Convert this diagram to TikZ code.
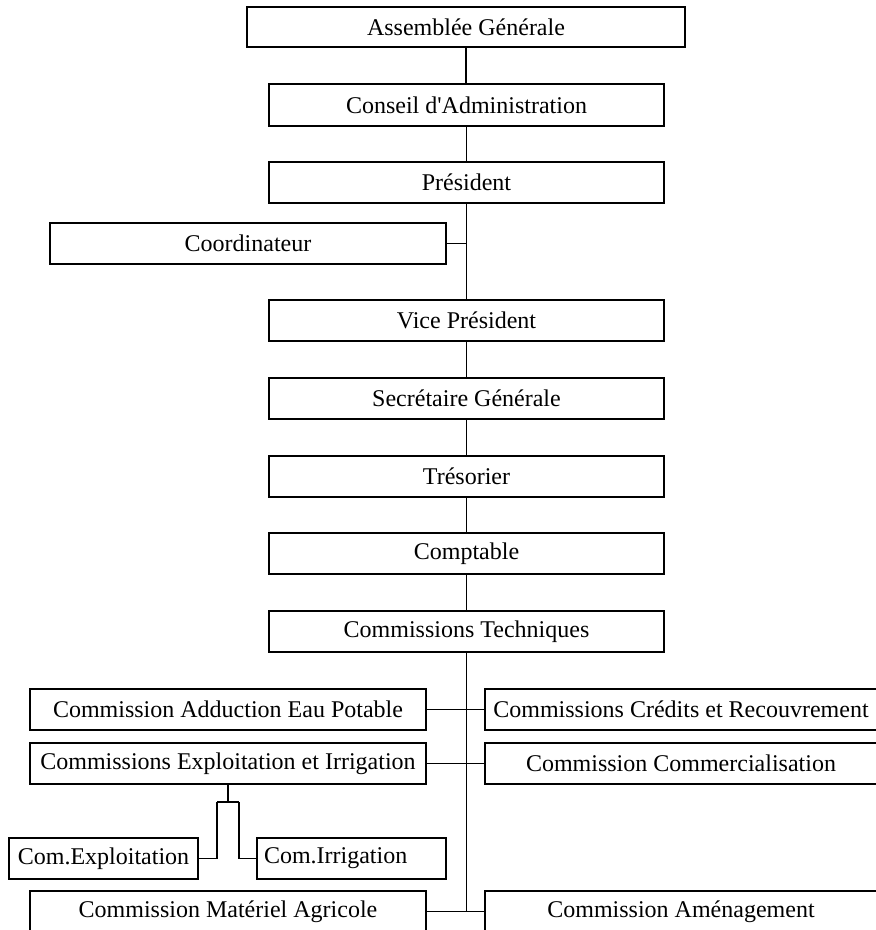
\documentclass[tikz,border=0pt]{standalone}
\usepackage{fontspec}
\setmainfont{Liberation Serif}
\begin{document}
\begin{tikzpicture}[x=1pt,y=-1pt,
  box/.style={draw=black,line width=1.5pt,rectangle,inner sep=0pt,font=\fontsize{24}{28}\selectfont,text=black},
  main/.style={box,minimum width=395pt,minimum height=41pt},
  side/.style={box,minimum width=396pt,minimum height=41pt},
  rside/.style={box,minimum width=392pt,minimum height=41pt},
  small/.style={box,minimum width=189pt,minimum height=41pt},
  link/.style={draw=black,line width=1.5pt}]
\useasboundingbox (0,0) rectangle (876,930);
\clip (0,0) rectangle (876,930);
\fill[white] (0,0) rectangle (876,930);
\node[box,minimum width=438pt,minimum height=40pt] (ag) at (466,27) {Assemblée Générale};
\node[main,minimum height=42pt] (ca) at (466.5,105) {Conseil d\textquotesingle Administration};
\node[main] (pr) at (466.5,182.5) {Président};
\node[side] (co) at (248,243.5) {Coordinateur};
\node[main] (vp) at (466.5,320.5) {Vice Président};
\node[main] (sg) at (466.5,398.5) {Secrétaire Générale};
\node[main] (tr) at (466.5,476.5) {Trésorier};
\node[main] (cp) at (466.5,553.5) {Comptable};
\node[main] (ct) at (466.5,631.5) {Commissions Techniques};
\node[side] (aep) at (228,709.5) {Commission Adduction Eau Potable};
\node[side] (exi) at (228,763.5) {Commissions Exploitation et Irrigation};
\node[side] (mat) at (228,911.5) {Commission Matériel Agricole};
\node[rside] (crd) at (681,709.5) {Commissions Crédits et Recouvrement};
\node[rside] (com) at (681,763.5) {Commission Commercialisation};
\node[rside] (amg) at (681,911.5) {Commission Aménagement};
\node[small] (cex) at (103.5,858.5) {Com.Exploitation};
\node[small,text width=175pt,align=left,inner xsep=7pt] (cir) at (351.5,858.5) {Com.Irrigation};
% trunk
\draw[link] (ag.south) -- (ag.south |- ca.north);
\draw[link] (ca.south) -- (ca.south |- pr.north);
\draw[link] (pr.south) -- (pr.south |- vp.north);
\draw[link] (co.east) -- (co.east -| pr.south);
\draw[link] (vp.south) -- (vp.south |- sg.north);
\draw[link] (sg.south) -- (sg.south |- tr.north);
\draw[link] (tr.south) -- (tr.south |- cp.north);
\draw[link] (cp.south) -- (cp.south |- ct.north);
\coordinate (tend) at (ct.south |- mat.east);
\draw[link] (ct.south) -- (tend);
\draw[link] (aep.east) -- (crd.west);
\draw[link] (exi.east) -- (com.west);
\draw[link] (mat.east) -- (amg.west);
% sub-commissions
\coordinate (jm) at (228,802);
\coordinate (jl) at (217,802);
\coordinate (jr) at (239,802);
\draw[link] (exi.south) -- (jm);
\draw[link] (jl) -- (jr);
\draw[link] (jl) |- (cex.east);
\draw[link] (jr) |- (cir.west);
\end{tikzpicture}
\end{document}
